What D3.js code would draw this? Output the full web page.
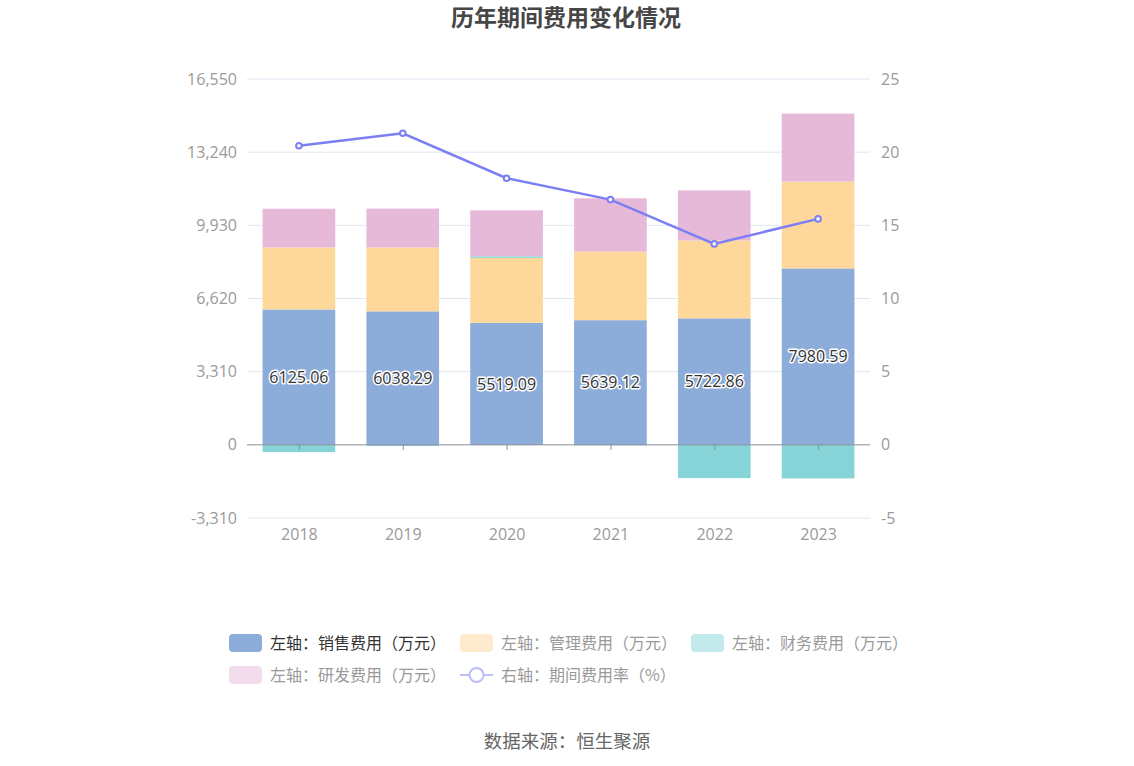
<!DOCTYPE html>
<html><head><meta charset="utf-8">
<script src="https://cdn.jsdelivr.net/npm/d3@7"></script>
<style>body{margin:0;background:#fff}svg{display:block}text{font-family:"Noto Sans CJK SC","Noto Sans",sans-serif}.num{font-family:"Open Sans","Noto Sans",sans-serif}</style>
</head><body><svg id="c" width="1134" height="766"></svg>
<script>
const years = ["2018","2019","2020","2021","2022","2023"];
const sales = [6125.06, 6038.29, 5519.09, 5639.12, 5722.86, 7980.59];
const admin = [2805, 2890, 2940, 3105, 3525, 3930];
const finance = [-330, -50, 70, -20, -1505, -1520];
const rnd = [1750, 1760, 2080, 2410, 2260, 3075];
const rate = [20.44, 21.29, 18.22, 16.76, 13.73, 15.44];
const leftTicks = [-3310, 0, 3310, 6620, 9930, 13240, 16550];
const rightTicks = [-5, 0, 5, 10, 15, 20, 25];
const seriesNames = ["左轴：销售费用（万元）","左轴：管理费用（万元）","左轴：财务费用（万元）","左轴：研发费用（万元）","右轴：期间费用率（%）"];
const colors = ["#8cacd9","#fed89b","#86d4d8","#e7b9d9","#7b7ff3"];

const svg = d3.select("#c");
const L = 247, R = 870, T = 79, B = 518;
const x = d3.scaleBand().domain(years).range([L, R]).paddingInner(0.3).paddingOuter(0.15);
const xc = d3.scalePoint().domain(years).range([L, R]).padding(0.5);
const y = d3.scaleLinear().domain([-3310, 16550]).range([B, T]);
const y2 = d3.scaleLinear().domain([-5, 25]).range([B, T]);
const fmt = d => d3.format(",")(d).replace("\u2212", "-");

// title
svg.append("text").attr("x", 566).attr("y", 18).attr("dy","0.36em").attr("text-anchor","middle")
  .attr("font-size", 23).attr("font-weight","bold").attr("fill","#464646").text("历年期间费用变化情况");

// grid
svg.append("g").selectAll("line").data(leftTicks.filter(d=>d!==0)).join("line")
  .attr("x1", L).attr("x2", R).attr("y1", d=>y(d)).attr("y2", d=>y(d))
  .attr("stroke","#e0e6f1").attr("stroke-width",1);

// left axis
const ya = d3.axisLeft(y).tickValues(leftTicks).tickFormat(fmt).tickSize(0).tickPadding(10);
const gy = svg.append("g").attr("transform",`translate(${L},0)`).call(ya);
gy.select(".domain").remove();
gy.selectAll("text").attr("class","num").attr("fill","#9a9a9a").attr("font-size",16);
const ya2 = d3.axisRight(y2).tickValues(rightTicks).tickFormat(fmt).tickSize(0).tickPadding(11);
const gy2 = svg.append("g").attr("transform",`translate(${R},0)`).call(ya2);
gy2.select(".domain").remove();
gy2.selectAll("text").attr("class","num").attr("fill","#9a9a9a").attr("font-size",16);

// stacked bars
const posStack = years.map(()=>0), negStack = years.map(()=>0);
const seriesVals = [sales, admin, finance, rnd];
const gb = svg.append("g");
seriesVals.forEach((vals, si) => {
  years.forEach((yr, i) => {
    const v = vals[i];
    let y0, y1;
    if (v >= 0) { y0 = posStack[i]; y1 = y0 + v; posStack[i] = y1; }
    else { y0 = negStack[i]; y1 = y0 + v; negStack[i] = y1; }
    gb.append("rect").attr("x", x(yr)).attr("width", x.bandwidth())
      .attr("y", y(Math.max(y0,y1))).attr("height", Math.abs(y(y0)-y(y1)))
      .attr("fill", colors[si]);
  });
});

// x axis
const xa = d3.axisBottom(xc).tickSize(5).tickPadding(9);
const gx = svg.append("g").attr("transform",`translate(0,${y(0)})`).call(xa);
gx.select(".domain").attr("stroke","#8a8d98").attr("d",`M${L},0H${R}`);
gx.selectAll(".tick line").attr("stroke","#8a8d98");
gx.selectAll("text").attr("class","num").attr("fill","#9a9a9a").attr("font-size",16).attr("dy","0.71em")
  .attr("transform",`translate(0,${B - y(0) - 3})`);
gx.raise();

// data labels
const gl = svg.append("g");
years.forEach((yr,i)=>{
  const cy = (y(0)+y(sales[i]))/2;
  gl.append("text").attr("class","num").attr("x", xc(yr)).attr("y", cy).attr("dy","0.36em")
    .attr("text-anchor","middle").attr("font-size",16).text(sales[i].toFixed(2))
    .attr("stroke","#fff").attr("stroke-width",3).attr("paint-order","stroke").attr("fill","#333").attr("stroke-linejoin","round");
});

// line
const line = d3.line().x((d,i)=>xc(years[i])).y(d=>y2(d));
svg.append("path").datum(rate).attr("d", line).attr("fill","none").attr("stroke",colors[4]).attr("stroke-width",2.5);
svg.append("g").selectAll("circle").data(rate).join("circle")
  .attr("cx",(d,i)=>xc(years[i])).attr("cy",d=>y2(d)).attr("r",2.8)
  .attr("fill","#fff").attr("stroke",colors[4]).attr("stroke-width",2);

// legend
const lg = svg.append("g");
const rows = [[0,1,2],[3,4]];
rows.forEach((row, ri) => {
  let cx = 229; const cy = 643 + ri*32;
  row.forEach(si => {
    const active = si === 0;
    const g = lg.append("g").attr("opacity", active ? 1 : 0.5);
    if (si < 4) {
      g.append("rect").attr("x", cx).attr("y", cy-9).attr("width", 33).attr("height", 18).attr("rx", 4).attr("fill", colors[si]);
    } else {
      g.append("line").attr("x1", cx).attr("x2", cx+33).attr("y1", cy).attr("y2", cy).attr("stroke", colors[4]).attr("stroke-width", 2);
      g.append("circle").attr("cx", cx+16.5).attr("cy", cy).attr("r", 7).attr("fill","#fff").attr("stroke", colors[4]).attr("stroke-width", 2);
    }
    const t = svg.append("text").attr("x", cx+41).attr("y", cy).attr("dy","0.36em")
      .attr("font-size",16).attr("fill", active ? "#333" : "#999").text(seriesNames[si]);
    cx = cx + 41 + t.node().getComputedTextLength() + 14;
  });
});

// source
svg.append("text").attr("x", 567).attr("y", 741).attr("dy","0.36em").attr("text-anchor","middle")
  .attr("font-size",18.5).attr("fill","#666").text("数据来源：恒生聚源");
</script></body></html>
